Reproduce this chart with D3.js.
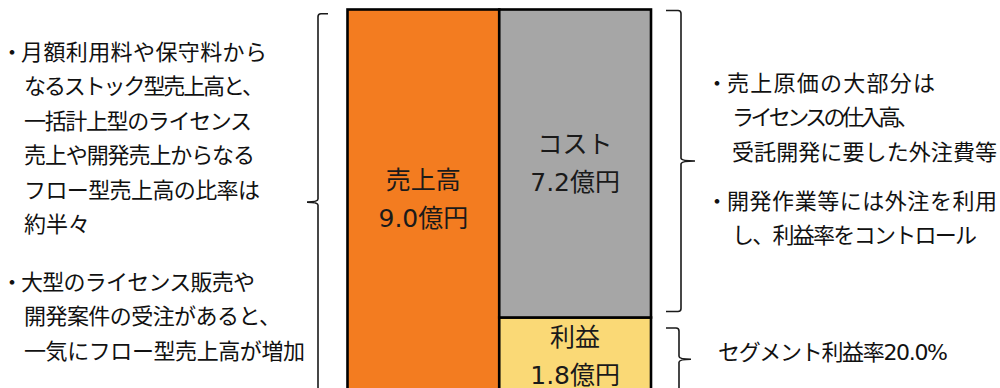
<!DOCTYPE html>
<html lang="ja">
<head>
<meta charset="utf-8">
<script src="https://cdn.jsdelivr.net/npm/d3@7"></script>
<style>
  html, body { margin: 0; padding: 0; background: #fff; }
  svg { display: block; }
  text { font-family: "DejaVu Sans", "Noto Sans CJK JP", sans-serif; }
</style>
</head>
<body>
<svg id="chart" width="1000" height="388"></svg>
<script>
// Segment revenue breakdown (億円)
const columns = ["売上高", "内訳"];
const segmentNames = ["売上高", "利益", "コスト"];
const segmentValues = [9.0, 1.8, 7.2];
const segmentColumns = ["売上高", "内訳", "内訳"];
const segmentColors = ["#F37C20", "#FAD976", "#A6A6A6"];

// Annotation text (a leading "・" marks a bullet line)
const leftNotes = [
  ["・月額利用料や保守料から", "なるストック型売上高と、", "一括計上型のライセンス",
   "売上や開発売上からなる", "フロー型売上高の比率は", "約半々"],
  ["・大型のライセンス販売や", "開発案件の受注があると、", "一気にフロー型売上高が増加"]
];
const costNotes = [
  ["・売上原価の大部分は", "ライセンスの仕入高、", "受託開発に要した外注費等"],
  ["・開発作業等には外注を利用", "し、利益率をコントロール"]
];
const profitNote = "セグメント利益率" + (segmentValues[1] / segmentValues[0] * 100).toFixed(1) + "%";

// Line widths used to set each annotation line (layout only)
const leftLineWidths = [[246, 240, 228, 231, 236, 66], [234, 257, 281]];
const costLineWidths = [[208, 187, 265], [270, 245]];
const profitNoteWidth = 230;

const svg = d3.select("#chart");

const x = d3.scaleBand().domain(columns).range([347.5, 651]).paddingInner(0).paddingOuter(0);
const y = d3.scaleLinear().domain([0, 9]).range([394.5, 9.5]);

// stack segments within each column
const offsets = {};
const segments = segmentNames.map((name, i) => {
  const col = segmentColumns[i];
  const start = offsets[col] || 0;
  const end = start + segmentValues[i];
  offsets[col] = end;
  return { name, value: segmentValues[i], col, start, end, color: segmentColors[i] };
});

const bars = svg.append("g");
bars.selectAll("rect")
  .data(segments)
  .join("rect")
  .attr("x", d => x(d.col))
  .attr("width", x.bandwidth())
  .attr("y", d => y(d.end))
  .attr("height", d => y(d.start) - y(d.end))
  .attr("fill", d => d.color)
  .attr("stroke", "#000")
  .attr("stroke-width", 2.6);

// labels inside each segment
const labelGap = 38;
bars.selectAll("text.seg")
  .data(segments)
  .join("text")
  .attr("class", "seg")
  .attr("text-anchor", "middle")
  .attr("font-size", 25)
  .attr("fill", "#1a1a1a")
  .each(function (d) {
    const cx = x(d.col) + x.bandwidth() / 2;
    const cy = (y(d.start) + y(d.end)) / 2 - (d.name === "売上高" ? 3 : 0);
    const t = d3.select(this);
    t.append("tspan").attr("x", cx)
      .attr("y", cy - labelGap / 2).attr("dominant-baseline", "central").text(d.name);
    t.append("tspan").attr("x", cx)
      .attr("y", cy + labelGap / 2).attr("dominant-baseline", "central")
      .text(d.value.toFixed(1) + "億円");
  });

// curly brace: vertical stem at xv, arms of length arm, tip of length tip
function brace(xv, y0, y1, arm, tip) {
  const r = 3;
  const ym = (y0 + y1) / 2;
  const s = Math.sign(arm);
  const p = d3.path();
  p.moveTo(xv + arm, y0);
  p.lineTo(xv + s * r, y0);
  p.quadraticCurveTo(xv, y0, xv, y0 + r);
  p.lineTo(xv, ym - r);
  p.quadraticCurveTo(xv, ym, xv + tip, ym);
  p.moveTo(xv + tip, ym);
  p.quadraticCurveTo(xv, ym, xv, ym + r);
  p.lineTo(xv, y1 - r);
  p.quadraticCurveTo(xv, y1, xv + s * r, y1);
  p.lineTo(xv + arm, y1);
  return p.toString();
}

const braces = [
  { xv: 318, from: 0, to: 9.0, inTop: 4.2, inBot: 4, arm: 10, tip: -11 },
  { xv: 681, from: 1.8, to: 9.0, inTop: 1, inBot: 6, arm: -15, tip: 14 },
  { xv: 679, from: 0, to: 1.8, inTop: 10.5, inBot: 4, arm: -13, tip: 12 }
];
svg.append("g").selectAll("path")
  .data(braces)
  .join("path")
  .attr("d", b => brace(b.xv, y(b.to) + b.inTop, y(b.from) - b.inBot, b.arm, b.tip))
  .attr("fill", "none")
  .attr("stroke", "#1a1a1a")
  .attr("stroke-width", 1.6);

// annotation blocks
function noteLine(g, str, xStart, yc, width) {
  g.append("text")
    .attr("x", xStart)
    .attr("y", yc)
    .attr("dominant-baseline", "central")
    .attr("font-size", 22)
    .attr("fill", "#111")
    .attr("textLength", width)
    .attr("lengthAdjust", "spacing")
    .text(str);
}
function noteBlock(paragraphs, widths, bulletX, xFirst, xIndent, yStarts, step) {
  const g = svg.append("g");
  paragraphs.forEach((lines, pi) => {
    lines.forEach((line, li) => {
      const yc = yStarts[pi] + li * step;
      if (line.startsWith("・")) {
        g.append("text")
          .attr("x", bulletX)
          .attr("y", yc)
          .attr("dominant-baseline", "central")
          .attr("text-anchor", "middle")
          .attr("font-size", 22)
          .attr("fill", "#111")
          .text("・");
        noteLine(g, line.slice(1), xFirst, yc, widths[pi][li]);
      } else {
        noteLine(g, line, xIndent, yc, widths[pi][li]);
      }
    });
  });
}
noteBlock(leftNotes, leftLineWidths, 12, 21, 24, [52, 282], 34.5);
noteBlock(costNotes, costLineWidths, 717, 727, 732, [83, 201], 34.6);

noteLine(svg.append("g"), profitNote, 718, 352, profitNoteWidth);
</script>
</body>
</html>
